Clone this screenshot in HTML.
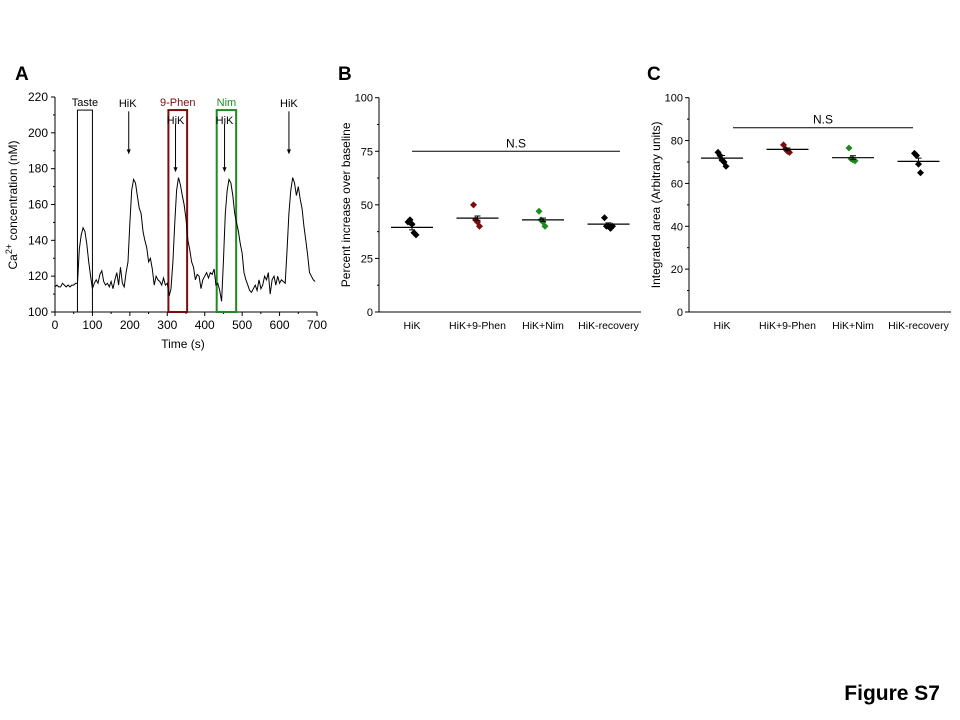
<!DOCTYPE html>
<html><head><meta charset="utf-8"><style>
html,body{margin:0;padding:0;background:#fff;}
svg{display:block;font-family:"Liberation Sans",Arial,sans-serif;}
</style></head><body>
<svg id="fig" width="960" height="720" viewBox="0 0 960 720" xmlns="http://www.w3.org/2000/svg"></svg>
<script>
// Panel A data (5 s sampling)
const traceStart = 0;
const traceStep = 5;
const traceValues = [114,115,114,114,116,115,114,115,114,115,115,116,116,135,143,147,145,138,128,120,113,116,118,116,121,123,117,115,116,114,117,113,118,122,115,125,116,114,122,128,150,168,174,172,165,158,155,145,140,136,128,130,124,115,120,118,117,115,119,115,116,109,113,128,150,168,175,171,165,160,152,140,135,128,125,118,121,120,113,118,120,122,119,122,121,124,115,116,112,106,128,155,168,174,172,165,155,150,145,138,133,122,118,115,112,111,113,115,112,118,113,115,120,118,122,110,118,120,115,120,116,118,117,116,135,155,168,175,172,165,170,163,158,148,140,132,122,120,118,117];
const aXTicks = [0,100,200,300,400,500,600,700];
const aYTicks = [100,120,140,160,180,200,220];
const boxStarts = [60,303,432];
const boxEnds = [100,353,484];
const arrowTimes = [197,322,453,625];
// Panel B/C data
const categories = ["HiK","HiK+9-Phen","HiK+Nim","HiK-recovery"];
const catColors = ["#000","#7a0c0c","#1f8a1f","#000"];
const bPoints = [[42,43,41,37,36],[50,43,42,40],[47,43,42,40],[44,40,40,39,40]];
const bMeans = [39.5,43.8,43,41];
const bSems = [1.2,1.0,0.8,0.6];
const cPoints = [[74.5,73,71,70,68],[78,76,75,74.5],[76.5,71.5,71,70.5],[74,73,69,65]];
const cMeans = [71.8,75.9,72,70.3];
const cSems = [1.2,0.6,0.9,1.5];
const yTicksBC = [0,25,50,75,100];
const yTicksC = [0,20,40,60,80,100];

const NS="http://www.w3.org/2000/svg";
const svg=document.getElementById('fig');
function el(tag,attrs,parent,text){const e=document.createElementNS(NS,tag);for(const k in attrs)e.setAttribute(k,attrs[k]);if(text!==undefined)e.textContent=text;(parent||svg).appendChild(e);return e;}

// ---- Panel A ----
const gA=el('g',{});


const ax=t=>55+(t-0)/700*262;
const ay=v=>312-(v-100)/120*215;
let t=el('text',{x:15,y:80,'font-size':19,'font-weight':'bold'},gA,'A');

el('line',{x1:55,y1:312,x2:317,y2:312,stroke:'#000','stroke-width':1},gA);
el('line',{x1:55,y1:97,x2:55,y2:312,stroke:'#000','stroke-width':1},gA);
aXTicks.forEach((v,i)=>{el('line',{x1:ax(v),y1:312,x2:ax(v),y2:316,stroke:'#000'},gA);
 if(i<aXTicks.length-1)el('line',{x1:ax(v+50),y1:312,x2:ax(v+50),y2:314,stroke:'#000'},gA);
 const tx=el('text',{x:ax(v),y:329,'font-size':12,'text-anchor':'middle'},gA,v);
 });
aYTicks.forEach((v,i)=>{el('line',{x1:51,y1:ay(v),x2:55,y2:ay(v),stroke:'#000'},gA);
 if(i<aYTicks.length-1)el('line',{x1:53,y1:ay(v+10),x2:55,y2:ay(v+10),stroke:'#000'},gA);
 const tx=el('text',{x:48,y:ay(v)+4,'font-size':12,'text-anchor':'end'},gA,v);
 });
t=el('text',{x:183,y:348,'font-size':12,'text-anchor':'middle'},gA,'Time (s)');

t=el('text',{transform:'translate(17,205) rotate(-90)','font-size':12,'text-anchor':'middle'},gA);

t.innerHTML='Ca<tspan dy="-5" font-size="9">2+</tspan><tspan dy="5"> concentration (nM)</tspan>';
const boxColors=['#000','#7a0c0c','#1f8a1f'];
boxStarts.forEach((s,i)=>{const r=el('rect',{x:ax(s),y:ay(212.7),width:ax(boxEnds[i])-ax(s),height:312-ay(212.7),fill:'none',stroke:boxColors[i],'stroke-width':i?2:1},gA);
 });
[['Taste',80,'#000'],['9-Phen',328,'#7a0c0c'],['Nim',458,'#1f8a1f']].forEach(([s,x,c])=>{
 const tx=el('text',{x:ax(x),y:106,'font-size':11,'text-anchor':'middle',fill:c},gA,s);
 });
arrowTimes.forEach((a,i)=>{const inner=(i===1||i===2);const y0=inner?ay(205):ay(212);const y1=inner?ay(178):ay(188);
 const tx=el('text',{x:ax(a)+(i==0?-1:0),y:inner?124:107,'font-size':11,'text-anchor':'middle'},gA,'HiK');
 
 const ar=el('line',{x1:ax(a),y1:y0,x2:ax(a),y2:y1-3,stroke:'#000'},gA);
 
 el('path',{d:`M${ax(a)-2},${y1-5} L${ax(a)+2},${y1-5} L${ax(a)},${y1} Z`,fill:'#000'},gA);});
const pts=traceValues.map((v,i)=>ax(traceStart+i*traceStep).toFixed(1)+','+ay(v).toFixed(1)).join(' ');
const pl=el('polyline',{points:pts,fill:'none',stroke:'#000','stroke-width':1},gA);


// ---- Panels B & C ----
function scatterPanel(opts){
 const g=el('g',{});
 
 
 const x0=opts.x0, yb=312, yt=97.7;
 const sy=v=>yb-(v-opts.ymin)/(opts.ymax-opts.ymin)*(yb-yt);
 const cx=i=>x0+33+i*65.5;
 let tx=el('text',{x:opts.lx,y:80,'font-size':19,'font-weight':'bold'},g,opts.letter);
 
 el('line',{x1:x0,y1:yt,x2:x0,y2:yb,stroke:'#000'},g);
 el('line',{x1:x0,y1:yb,x2:x0+262,y2:yb,stroke:'#000'},g);
 opts.ticks.forEach((v,i)=>{el('line',{x1:x0-4,y1:sy(v),x2:x0,y2:sy(v),stroke:'#000'},g);
  if(i<opts.ticks.length-1){const m=(v+opts.ticks[i+1])/2;el('line',{x1:x0-2,y1:sy(m),x2:x0,y2:sy(m),stroke:'#000'},g);}
  const l=el('text',{x:x0-6,y:sy(v)+4,'font-size':11,'text-anchor':'end'},g,v);
  });
 tx=el('text',{transform:`translate(${x0-29},${(yb+yt)/2}) rotate(-90)`,'font-size':12,'text-anchor':'middle'},g,opts.ytitle);
 
 categories.forEach((c,i)=>{const l=el('text',{x:cx(i),y:329,'font-size':10.5,'text-anchor':'middle'},g,c);
  
  const offs=[-4,-2,0,2,4,-3];
  opts.points[i].forEach((v,j)=>{const px=cx(i)+offs[j%offs.length],py=sy(v);
   const d=el('path',{d:`M${px},${py-3.5} L${px+3.5},${py} L${px},${py+3.5} L${px-3.5},${py} Z`,fill:catColors[i]},g);
   });
  const m=opts.means[i],s=opts.sems[i];
  const ml=el('line',{x1:cx(i)-21,y1:sy(m),x2:cx(i)+21,y2:sy(m),stroke:'#000','stroke-width':1.2},g);
  
  const eb=el('path',{d:`M${cx(i)},${sy(m+s)} L${cx(i)},${sy(m-s)} M${cx(i)-3},${sy(m+s)} L${cx(i)+3},${sy(m+s)} M${cx(i)-3},${sy(m-s)} L${cx(i)+3},${sy(m-s)}`,stroke:'#000',fill:'none'},g);
  });
 const nl=el('line',{x1:opts.nsx1,y1:sy(opts.nsy),x2:opts.nsx2,y2:sy(opts.nsy),stroke:'#000'},g);
 
 tx=el('text',{x:(opts.nsx1+opts.nsx2)/2,y:sy(opts.nsy)-4,'font-size':12,'text-anchor':'middle'},g,'N.S');
 
}
scatterPanel({name:'panel-b-percent-increase-chart',letter:'B',letterName:'panel-b-label',lx:338,x0:379,ymin:0,ymax:100,ticks:yTicksBC,ytitle:'Percent increase over baseline',points:bPoints,means:bMeans,sems:bSems,nsx1:412,nsx2:620,nsy:75});
scatterPanel({name:'panel-c-integrated-area-chart',letter:'C',letterName:'panel-c-label',lx:647,x0:689,ymin:0,ymax:100,ticks:yTicksC,ytitle:'Integrated area (Arbitrary units)',points:cPoints,means:cMeans,sems:cSems,nsx1:733,nsx2:913,nsy:86});

t=el('text',{x:940,y:700,'font-size':21,'font-weight':'bold','text-anchor':'end'},svg,'Figure S7');

</script>
</body></html>
